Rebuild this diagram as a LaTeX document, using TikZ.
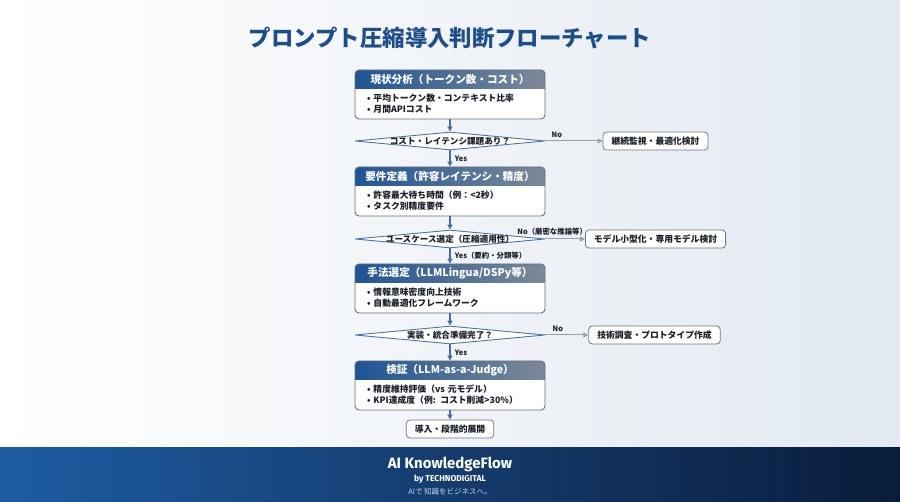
\documentclass[tikz,border=0pt]{standalone}
\usepackage{fontspec}
\setmainfont{Noto Sans CJK JP}
\newfontfamily\footfont{Fira Sans}
\usetikzlibrary{shapes.geometric,arrows.meta,calc,positioning}

\definecolor{titleblue}{RGB}{28,78,140}
\definecolor{headblue}{RGB}{30,84,150}
\definecolor{headgray}{RGB}{125,138,152}
\definecolor{boxline}{RGB}{95,112,135}
\definecolor{diamline}{RGB}{78,116,165}
\definecolor{sideline}{RGB}{112,120,130}
\definecolor{flowblue}{RGB}{74,110,152}
\definecolor{flowgray}{RGB}{150,160,172}
\definecolor{txtdark}{RGB}{25,30,40}
\definecolor{bgright}{RGB}{226,233,241}
\definecolor{footleft}{RGB}{30,92,162}
\definecolor{footright}{RGB}{10,28,58}
\definecolor{footsub}{RGB}{200,212,228}

\begin{document}
\begin{tikzpicture}[x=1pt,y=-1pt,
  proc/.style={draw=boxline, fill=white, line width=0.9pt, rounded corners=4pt,
    minimum width=190pt, minimum height=49pt, inner sep=0pt,
    path picture={\shade[sharp corners, left color=headblue, right color=headgray]
      (path picture bounding box.north west) rectangle
      ([yshift=-18.5pt]path picture bounding box.north east);}},
  headtxt/.style={text=white, font=\fontsize{10.6}{12}\selectfont\bfseries, inner sep=0pt},
  bodytxt/.style={text=txtdark, font=\fontsize{8.8}{11.5}\selectfont\bfseries,
    text width=166pt, align=left, inner sep=0pt},
  decision/.style={diamond, draw=diamline, fill=white, line width=0.9pt,
    minimum width=190pt, minimum height=18pt, inner sep=0pt},
  dtxt/.style={text=txtdark, font=\fontsize{8.6}{10}\selectfont\bfseries, inner sep=0pt},
  sidebox/.style={draw=sideline, fill=white, line width=0.8pt, rounded corners=3.5pt,
    minimum height=18pt, inner xsep=8.5pt, inner ysep=0pt, text=txtdark,
    font=\fontsize{8.8}{10}\selectfont\bfseries},
  flow/.style={draw=flowblue, line width=1.1pt, -{Triangle[length=5pt,width=5pt]}},
  noflow/.style={draw=flowgray, line width=1pt, -{Triangle[length=5pt,width=5pt]}},
  lbl/.style={text=txtdark, font=\fontsize{7.4}{8}\selectfont\bfseries}]

\useasboundingbox (0,0) rectangle (900,502);
\shade[left color=white, right color=bgright] (0,0) rectangle (900,448);
\shade[left color=footleft, right color=footright] (0,448) rectangle (900,502);

\node[text=titleblue, font=\fontsize{22.4}{26}\selectfont\bfseries] at (450,38) (title)
  {プロンプト圧縮導入判断フローチャート};

% process boxes
\foreach \n/\t/\head/\lines in {
  1/70/{現状分析（トークン数・コスト）}/{• 平均トークン数・コンテキスト比率\\• 月間APIコスト},
  2/167/{要件定義（許容レイテンシ・精度）}/{• 許容最大待ち時間（例：<2秒）\\• タスク別精度要件},
  3/264/{手法選定（LLMLingua/DSPy等）}/{• 情報意味密度向上技術\\• 自動最適化フレームワーク},
  4/361/{検証（LLM-as-a-Judge）}/{• 精度維持評価（vs 元モデル）\\• KPI達成度（例: コスト削減>30\%）}}
{
  \node[proc] at (450,\t+24.5) (p\n) {};
  \node[headtxt] at ([yshift=-9.5pt]p\n.north) (h\n) {\head};
  \node[bodytxt] at ([yshift=-34pt]p\n.north) (b\n) {\lines};
}

% decisions
\foreach \n/\y/\q in {1/141/{コスト・レイテンシ課題あり？},
  2/239/{ユースケース選定（圧縮適用性）},3/335/{実装・統合準備完了？}}
{
  \node[decision] at (450,\y) (d\n) {};
  \node[dtxt] at (d\n) (q\n) {\q};
}

\node[sidebox] at (655.5,141) (s1) {継続監視・最適化検討};
\node[sidebox] at (655.5,239) (s2) {モデル小型化・専用モデル検討};
\node[sidebox] at (654.5,335) (s3) {技術調査・プロトタイプ作成};
\node[sidebox] at (450,429) (fin) {導入・段階的展開};

\foreach \n in {1,2,3}
  \draw[flow] (p\n.south) -- (d\n.north);
\draw[flow] (p4.south) -- (fin.north);

\draw[flow] (d1.south) -- (p2.north) node[lbl, midway, right, xshift=1pt] (y1) {Yes};
\draw[flow] (d2.south) -- (p3.north) node[lbl, midway, right, xshift=1pt] (y2) {Yes（要約・分類等）};
\draw[flow] (d3.south) -- (p4.north) node[lbl, midway, right, xshift=1pt] (y3) {Yes};

\draw[noflow] (d1.east) -- (s1.west) node[lbl, pos=0.2, above] (n1) {No};
\draw[noflow] (d2.east) -- (s2.west) node[lbl, pos=0.17, above] (n2) {No（厳密な推論等）};
\draw[noflow] (d3.east) -- (s3.west) node[lbl, pos=0.29, above] (n3) {No};

% footer
\node[text=white, font=\footfont\fontsize{15}{17}\selectfont\bfseries] at (450,464) (brand) {AI KnowledgeFlow};
\node[text=white, font=\footfont\fontsize{8.5}{10}\selectfont\bfseries] at (450,479) (by) {by TECHNODIGITAL};
\node[text=footsub, font=\fontsize{7.5}{9}\selectfont] at (450,492) (motto) {AIで 知識をビジネスへ。};
\end{tikzpicture}
\end{document}
